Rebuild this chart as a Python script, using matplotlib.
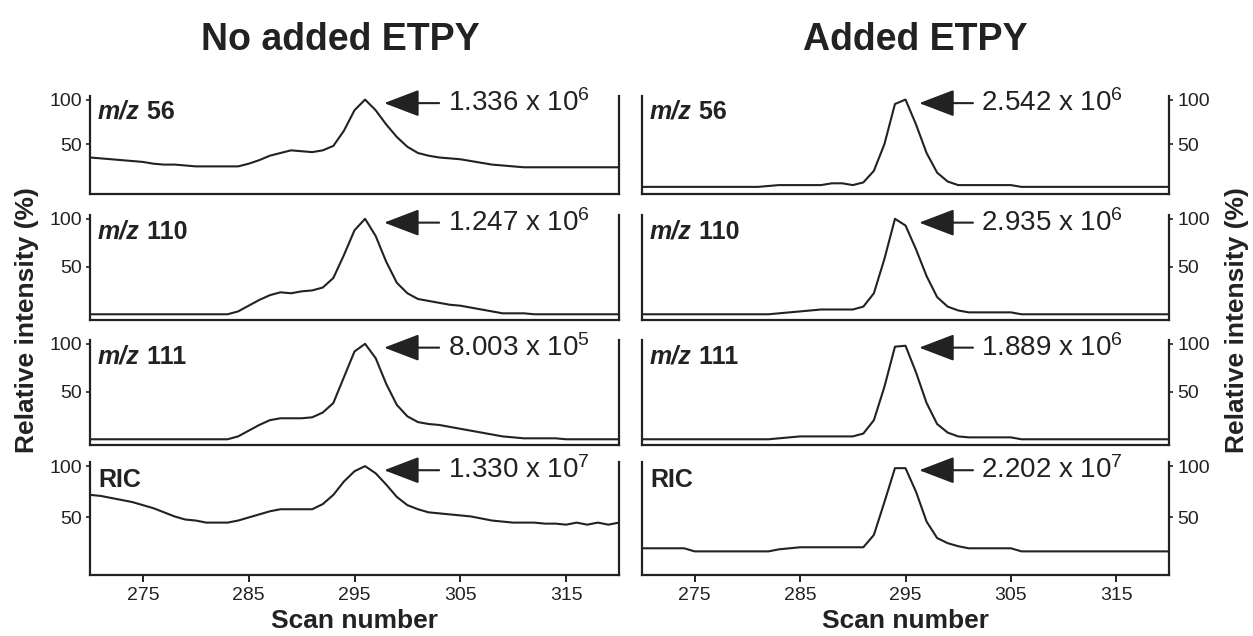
import numpy as np
import matplotlib.pyplot as plt

plt.rcParams['font.family'] = ['Liberation Sans', 'DejaVu Sans']
plt.rcParams['mathtext.fontset'] = 'custom'
plt.rcParams['mathtext.rm'] = 'Liberation Sans'
plt.rcParams['mathtext.it'] = 'Liberation Sans:italic'
plt.rcParams['mathtext.bf'] = 'Liberation Sans:bold'

INK = '#222222'

# scan numbers 270..320
scans = np.arange(270, 321)

# relative intensity (%) per scan, no added ETPY
no_mz56 = [35, 34, 33, 32, 31, 30, 28, 27, 27, 26, 25, 25, 25, 25, 25, 28, 32, 37, 40, 43,
           42, 41, 43, 48, 65, 88, 100, 88, 72, 58, 47, 40, 37, 35, 34, 33, 31, 29, 27, 26,
           25, 24, 24, 24, 24, 24, 24, 24, 24, 24, 24]
no_mz110 = [0, 0, 0, 0, 0, 0, 0, 0, 0, 0, 0, 0, 0, 0, 3, 9, 15, 20, 23, 22,
            24, 25, 28, 38, 62, 88, 100, 82, 55, 33, 22, 16, 14, 12, 10, 9, 7, 5, 3, 1,
            1, 1, 0, 0, 0, 0, 0, 0, 0, 0, 0]
no_mz111 = [0, 0, 0, 0, 0, 0, 0, 0, 0, 0, 0, 0, 0, 0, 3, 9, 15, 20, 22, 22,
            22, 23, 28, 38, 65, 92, 100, 85, 58, 36, 24, 18, 16, 15, 13, 11, 9, 7, 5, 3,
            2, 1, 1, 1, 1, 0, 0, 0, 0, 0, 0]
no_ric = [72, 71, 69, 67, 65, 62, 59, 55, 51, 48, 47, 45, 45, 45, 47, 50, 53, 56, 58, 58,
          58, 58, 63, 72, 85, 95, 100, 93, 82, 70, 62, 58, 55, 54, 53, 52, 51, 49, 47, 46,
          45, 45, 45, 44, 44, 43, 45, 43, 45, 43, 45]

# relative intensity (%) per scan, added ETPY
add_mz56 = [2, 2, 2, 2, 2, 2, 2, 2, 2, 2, 2, 2, 3, 4, 4, 4, 4, 4, 6, 6,
            4, 7, 20, 50, 95, 100, 72, 40, 18, 8, 4, 4, 4, 4, 4, 4, 2, 2, 2, 2,
            2, 2, 2, 2, 2, 2, 2, 2, 2, 2, 2]
add_mz110 = [0, 0, 0, 0, 0, 0, 0, 0, 0, 0, 0, 0, 0, 1, 2, 3, 4, 5, 5, 5,
             5, 8, 22, 58, 100, 93, 68, 40, 18, 8, 4, 2, 2, 2, 2, 2, 0, 0, 0, 0,
             0, 0, 0, 0, 0, 0, 0, 0, 0, 0, 0]
add_mz111 = [0, 0, 0, 0, 0, 0, 0, 0, 0, 0, 0, 0, 0, 1, 2, 3, 3, 3, 3, 3,
             3, 6, 20, 55, 97, 98, 70, 38, 16, 7, 3, 2, 2, 2, 2, 2, 0, 0, 0, 0,
             0, 0, 0, 0, 0, 0, 0, 0, 0, 0, 0]
add_ric = [20, 20, 20, 20, 20, 17, 17, 17, 17, 17, 17, 17, 17, 19, 20, 21, 21, 21, 21, 21,
           21, 21, 33, 65, 98, 98, 75, 46, 30, 25, 22, 20, 20, 20, 20, 20, 17, 17, 17, 17,
           17, 17, 17, 17, 17, 17, 17, 17, 17, 17, 17]

trace_names = ['56', '110', '111', 'RIC']
no_traces = [no_mz56, no_mz110, no_mz111, no_ric]
add_traces = [add_mz56, add_mz110, add_mz111, add_ric]

# base peak intensities: mantissa and power of ten
no_mant = ['1.336', '1.247', '8.003', '1.330']
no_exp = [6, 6, 5, 7]
add_mant = ['2.542', '2.935', '1.889', '2.202']
add_exp = [6, 6, 6, 7]

scan_ticks = [275, 285, 295, 305, 315]

W, H = 1253, 636
fig = plt.figure(figsize=(W / 100, H / 100), dpi=100)

# panel rows as (top, bottom) in pixels
rows_px = [(96, 194), (215, 320), (340, 445), (462, 575)]
left_px = (90, 619)
right_px = (642, 1169)


def make_axes(xpx, ypx):
    x0, x1 = xpx
    y0, y1 = ypx
    return fig.add_axes([x0 / W, 1 - y1 / H, (x1 - x0) / W, (y1 - y0) / H])


def draw_panel(ax, y, name, mant, exp, side, bottom, tip, shaft, txt):
    ax.plot(scans, y, color=INK, lw=1.5)
    ax.set_xlim(270, 320)
    ax.set_ylim(-6, 104)
    for s in ['left', 'right', 'bottom']:
        ax.spines[s].set_linewidth(1.6)
        ax.spines[s].set_color(INK)
    ax.spines['top'].set_visible(False)
    ax.set_yticks([50, 100])
    ax.set_yticklabels(['50', '100'])
    if side == 'left':
        ax.tick_params(axis='y', left=True, right=False, labelleft=True, labelright=False)
    else:
        ax.tick_params(axis='y', left=False, right=True, labelleft=False, labelright=True)
    ax.tick_params(axis='y', direction='out', length=3, width=1.2, color=INK,
                   labelsize=14, pad=3, labelcolor=INK)
    ax.set_xticks(scan_ticks)
    if bottom:
        ax.tick_params(axis='x', direction='out', length=5, width=1.4, color=INK,
                       labelsize=14, pad=4, labelcolor=INK)
        ax.set_xlabel('Scan number', fontsize=19, fontweight='bold', color=INK, labelpad=3)
    else:
        ax.tick_params(axis='x', bottom=False, labelbottom=False)

    # trace label in the upper left corner
    if name == 'RIC':
        ax.text(0.015, 0.84, 'RIC', transform=ax.transAxes, fontsize=18,
                fontweight='bold', va='center', ha='left', color=INK)
    else:
        t = ax.text(0.015, 0.84, 'm/z', transform=ax.transAxes, fontsize=18,
                    fontweight='bold', style='italic', va='center', ha='left', color=INK)
        ax.annotate(' ' + name, xy=(1, 0.5), xycoords=t, fontsize=18,
                    fontweight='bold', va='center', ha='left', color=INK)

    # arrow pointing at the peak, with the base peak intensity
    ay = 96
    ax.annotate('', xy=(tip, ay), xytext=(shaft, ay),
                arrowprops=dict(arrowstyle='-|>,head_length=1.1,head_width=0.42',
                                mutation_scale=20, lw=1.5, color=INK,
                                shrinkA=0, shrinkB=0))
    ax.text(txt, ay, mant + ' x 10$^{%d}$' % exp, fontsize=20, va='center',
            ha='left', color=INK)


for i in range(4):
    axl = make_axes(left_px, rows_px[i])
    draw_panel(axl, no_traces[i], trace_names[i], no_mant[i], no_exp[i], 'left',
               i == 3, 297.8, 303.0, 303.8)
    axr = make_axes(right_px, rows_px[i])
    draw_panel(axr, add_traces[i], trace_names[i], add_mant[i], add_exp[i], 'right',
               i == 3, 296.3, 301.4, 302.2)

fig.text(340 / W, 1 - 40 / H, 'No added ETPY', fontsize=27, fontweight='bold',
         ha='center', va='center', color=INK)
fig.text(915 / W, 1 - 40 / H, 'Added ETPY', fontsize=27, fontweight='bold',
         ha='center', va='center', color=INK)
fig.text(27 / W, 1 - 320 / H, 'Relative intensity (%)', fontsize=19, fontweight='bold',
         rotation=90, ha='center', va='center', color=INK)
fig.text(1237 / W, 1 - 320 / H, 'Relative intensity (%)', fontsize=19, fontweight='bold',
         rotation=90, ha='center', va='center', color=INK)

fig.savefig('out.png', dpi=100, facecolor='white')
